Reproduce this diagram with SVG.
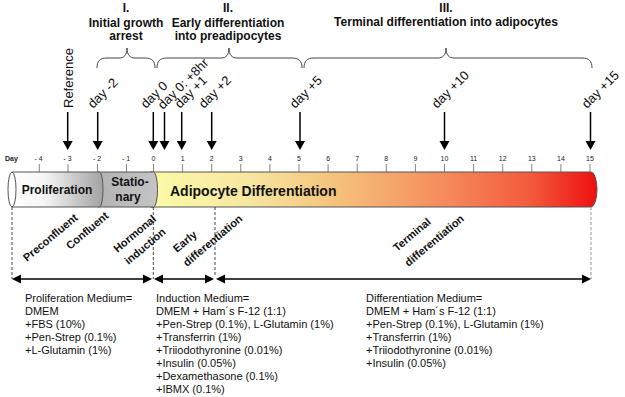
<svg xmlns="http://www.w3.org/2000/svg" width="625" height="397" viewBox="0 0 625 397">
<style>
  .h{font-family:"Liberation Sans",Arial,sans-serif;font-weight:bold;font-size:12px;fill:#111;text-anchor:middle}
  .dl{font-family:"Liberation Sans",Arial,sans-serif;font-size:13px;fill:#111}
  .tk{font-family:"Liberation Sans",Arial,sans-serif;font-size:7px;fill:#222;text-anchor:middle}
  .bl{font-family:"Liberation Sans",Arial,sans-serif;font-weight:bold;font-size:11px;fill:#111}
  .md{font-family:"Liberation Sans",Arial,sans-serif;font-size:11px;fill:#111}
  .brace{fill:none;stroke:#444;stroke-width:1}
  .darr{stroke:#000;stroke-width:1.5}
  .tick{stroke:#666;stroke-width:0.8}
  .dash{stroke:#333;stroke-width:0.9;stroke-dasharray:3,2;fill:none}
  .harr{stroke:#000;stroke-width:1.5}
</style>
<defs>
  <linearGradient id="gProl" x1="12" y1="0" x2="103" y2="0" gradientUnits="userSpaceOnUse">
    <stop offset="0" stop-color="#ffffff"/>
    <stop offset="0.35" stop-color="#f6f6f6"/>
    <stop offset="1" stop-color="#a2a2a2"/>
  </linearGradient>
  <linearGradient id="gStat" x1="100" y1="0" x2="158" y2="0" gradientUnits="userSpaceOnUse">
    <stop offset="0" stop-color="#b4b4b4"/>
    <stop offset="1" stop-color="#c4c4c4"/>
  </linearGradient>
  <linearGradient id="gAdi" x1="153" y1="0" x2="597" y2="0" gradientUnits="userSpaceOnUse">
    <stop offset="0" stop-color="#fafaa6"/>
    <stop offset="0.22" stop-color="#f7e6a0"/>
    <stop offset="0.40" stop-color="#f4c47e"/>
    <stop offset="0.66" stop-color="#f58a5c"/>
    <stop offset="0.85" stop-color="#f35a3c"/>
    <stop offset="1" stop-color="#ee1010"/>
  </linearGradient>
</defs>

<g id="headings">
  <text class="h" x="126" y="12">I.</text>
  <text class="h" x="126" y="27">Initial growth</text>
  <text class="h" x="126" y="40">arrest</text>
  <text class="h" x="228" y="12">II.</text>
  <text class="h" x="228" y="27">Early differentiation</text>
  <text class="h" x="228" y="40">into preadipocytes</text>
  <text class="h" x="446" y="12">III.</text>
  <text class="h" x="446" y="26">Terminal differentiation into adipocytes</text>
</g>

<g id="braces">
  <path class="brace" d="M97,68 C97,61 100,58 107,58 H119 C124,58 127,55 127,48 C127,55 130,58 135,58 H145 C152,58 155,61 155,68"/>
  <path class="brace" d="M157,68 C157,61 160,58 167,58 H221 C226,58 229,55 229,48 C229,55 232,58 237,58 H292 C299,58 302,61 302,68"/>
  <path class="brace" d="M304,68 C304,61 307,58 314,58 H438 C443,58 446,55 446,48 C446,55 449,58 454,58 H582 C589,58 592,61 592,68"/>
</g>

<g id="day-markers">
  <g id="m-reference"><line class="darr" x1="67.7" y1="112" x2="67.7" y2="142"/><polygon points="62.7,141 72.7,141 67.7,150"/><text class="dl" transform="translate(72.5,108) rotate(-90)">Reference</text></g>
  <g id="m-day-2"><line class="darr" x1="97.7" y1="112" x2="97.7" y2="142"/><polygon points="92.7,141 102.7,141 97.7,150"/><text class="dl" transform="translate(93,109) rotate(-45)">day -2</text></g>
  <g id="m-day0"><line class="darr" x1="153.3" y1="112" x2="153.3" y2="142"/><polygon points="148.3,141 158.3,141 153.3,150"/><text class="dl" transform="translate(146,109) rotate(-45)">day 0</text></g>
  <g id="m-day0-8hr"><line class="darr" x1="164.5" y1="112" x2="164.5" y2="142"/><polygon points="159.5,141 169.5,141 164.5,150"/><text class="dl" transform="translate(163,110) rotate(-45)">day 0: +8hr</text></g>
  <g id="m-day1"><line class="darr" x1="181.7" y1="112" x2="181.7" y2="142"/><polygon points="176.7,141 186.7,141 181.7,150"/><text class="dl" transform="translate(180,109) rotate(-45)">day +1</text></g>
  <g id="m-day2"><line class="darr" x1="211.7" y1="112" x2="211.7" y2="142"/><polygon points="206.7,141 216.7,141 211.7,150"/><text class="dl" transform="translate(204,109) rotate(-45)">day +2</text></g>
  <g id="m-day5"><line class="darr" x1="300" y1="112" x2="300" y2="142"/><polygon points="295,141 305,141 300,150"/><text class="dl" transform="translate(295,109) rotate(-45)">day +5</text></g>
  <g id="m-day10"><line class="darr" x1="444.5" y1="112" x2="444.5" y2="142"/><polygon points="439.5,141 449.5,141 444.5,150"/><text class="dl" transform="translate(437,109) rotate(-45)">day +10</text></g>
  <g id="m-day15"><line class="darr" x1="590.5" y1="112" x2="590.5" y2="142"/><polygon points="585.5,141 595.5,141 590.5,150"/><text class="dl" transform="translate(587,109) rotate(-45)">day +15</text></g>
</g>

<g id="axis">
  <text x="5" y="160.5" style="font-family:'Liberation Sans',Arial,sans-serif;font-weight:bold;font-size:7px;fill:#222">Day</text>
  <g class="tick">
    <line x1="39.3" y1="164" x2="39.3" y2="172"/><line x1="68" y1="164" x2="68" y2="172"/><line x1="97.5" y1="164" x2="97.5" y2="172"/><line x1="126.5" y1="164" x2="126.5" y2="172"/><line x1="153.5" y1="164" x2="153.5" y2="172"/>
    <line x1="182.6" y1="164" x2="182.6" y2="172"/><line x1="211.7" y1="164" x2="211.7" y2="172"/><line x1="240.8" y1="164" x2="240.8" y2="172"/><line x1="269.9" y1="164" x2="269.9" y2="172"/><line x1="299" y1="164" x2="299" y2="172"/>
    <line x1="328.1" y1="164" x2="328.1" y2="172"/><line x1="357.2" y1="164" x2="357.2" y2="172"/><line x1="386.3" y1="164" x2="386.3" y2="172"/><line x1="415.4" y1="164" x2="415.4" y2="172"/><line x1="444.5" y1="164" x2="444.5" y2="172"/>
    <line x1="473.6" y1="164" x2="473.6" y2="172"/><line x1="502.7" y1="164" x2="502.7" y2="172"/><line x1="531.8" y1="164" x2="531.8" y2="172"/><line x1="560.9" y1="164" x2="560.9" y2="172"/><line x1="590" y1="164" x2="590" y2="172"/>
  </g>
  <text class="tk" x="38.5" y="160.5">- 4</text><text class="tk" x="67.5" y="160.5">- 3</text><text class="tk" x="97" y="160.5">- 2</text><text class="tk" x="126" y="160.5">- 1</text><text class="tk" x="153.5" y="160.5">0</text>
  <text class="tk" x="182.6" y="160.5">1</text><text class="tk" x="211.7" y="160.5">2</text><text class="tk" x="240.8" y="160.5">3</text><text class="tk" x="269.9" y="160.5">4</text><text class="tk" x="299" y="160.5">5</text>
  <text class="tk" x="328.1" y="160.5">6</text><text class="tk" x="357.2" y="160.5">7</text><text class="tk" x="386.3" y="160.5">8</text><text class="tk" x="415.4" y="160.5">9</text><text class="tk" x="444.5" y="160.5">10</text>
  <text class="tk" x="473.6" y="160.5">11</text><text class="tk" x="502.7" y="160.5">12</text><text class="tk" x="531.8" y="160.5">13</text><text class="tk" x="560.9" y="160.5">14</text><text class="tk" x="590" y="160.5">15</text>
</g>

<g id="bar">
  <g id="seg-adipocyte">
    <path d="M150,172 H591 A6,17.5 0 0 1 591,207 H150 Z" fill="url(#gAdi)" stroke="#555" stroke-width="1"/>
    <text x="170" y="196" style="font-family:'Liberation Sans',Arial,sans-serif;font-weight:bold;font-size:14px;fill:#111">Adipocyte Differentiation</text>
  </g>
  <g id="seg-stationary">
    <path d="M98,172 H153.5 A4,17.5 0 0 1 153.5,207 H98 Z" fill="url(#gStat)" stroke="#555" stroke-width="1"/>
    <text class="h" x="130" y="186">Statio-</text>
    <text class="h" x="128" y="200.5">nary</text>
  </g>
  <g id="seg-proliferation">
    <path d="M12,172 H99.5 A3.5,17.5 0 0 1 99.5,207 H12 Z" fill="url(#gProl)" stroke="#555" stroke-width="1"/>
    <ellipse cx="12" cy="189.5" rx="4" ry="17.5" fill="#fff" stroke="#555" stroke-width="1"/>
    <text class="h" x="57" y="194">Proliferation</text>
  </g>
</g>

<g id="connectors">
  <line class="dash" x1="12" y1="207" x2="12" y2="279"/>
  <line class="dash" x1="153.3" y1="207" x2="153.3" y2="279"/>
  <line class="dash" x1="215" y1="207" x2="215" y2="276"/>
  <line class="dash" x1="591" y1="207" x2="591" y2="279" style="stroke:#888"/>
  <line class="harr" x1="20" y1="279" x2="144" y2="279"/>
  <polygon points="12,279 21,274.5 21,283.5"/><polygon points="152,279 143,274.5 143,283.5"/>
  <line class="harr" x1="162" y1="279" x2="206" y2="279"/>
  <polygon points="154,279 163,274.5 163,283.5"/><polygon points="214,279 205,274.5 205,283.5"/>
  <line class="harr" x1="224" y1="279" x2="582" y2="279"/>
  <polygon points="216,279 225,274.5 225,283.5"/><polygon points="591,279 582,274.5 582,283.5"/>
</g>

<g id="phase-labels">
  <text class="bl" transform="translate(27,262) rotate(-40)">Preconfluent</text>
  <text class="bl" transform="translate(70,250) rotate(-40)">Confluent</text>
  <text class="bl" transform="translate(117.5,253) rotate(-40)">Hormonal</text>
  <text class="bl" transform="translate(128.5,265) rotate(-40)">induction</text>
  <text class="bl" transform="translate(177,253) rotate(-40)">Early</text>
  <text class="bl" transform="translate(187,267) rotate(-40)">differentiation</text>
  <text class="bl" transform="translate(397,252) rotate(-40)">Terminal</text>
  <text class="bl" transform="translate(408.5,267) rotate(-40)">differentiation</text>
</g>

<g id="media">
  <g id="proliferation-medium">
    <text class="md" x="25" y="301.5">Proliferation Medium=</text>
    <text class="md" x="25" y="314.5">DMEM</text>
    <text class="md" x="25" y="327.5">+FBS (10%)</text>
    <text class="md" x="25" y="340.5">+Pen-Strep (0.1%)</text>
    <text class="md" x="25" y="353.5">+L-Glutamin (1%)</text>
  </g>
  <g id="induction-medium">
    <text class="md" x="156" y="301.5">Induction Medium=</text>
    <text class="md" x="156" y="314.5">DMEM + Ham´s F-12 (1:1)</text>
    <text class="md" x="156" y="327.5">+Pen-Strep (0.1%), L-Glutamin (1%)</text>
    <text class="md" x="156" y="340.5">+Transferrin (1%)</text>
    <text class="md" x="156" y="353.5">+Triiodothyronine (0.01%)</text>
    <text class="md" x="156" y="366.5">+Insulin (0.05%)</text>
    <text class="md" x="156" y="379.5">+Dexamethasone (0.1%)</text>
    <text class="md" x="156" y="392.5">+IBMX (0.1%)</text>
  </g>
  <g id="differentiation-medium">
    <text class="md" x="366" y="301.5">Differentiation Medium=</text>
    <text class="md" x="366" y="314.5">DMEM + Ham´s F-12 (1:1)</text>
    <text class="md" x="366" y="327.5">+Pen-Strep (0.1%), L-Glutamin (1%)</text>
    <text class="md" x="366" y="340.5">+Transferrin (1%)</text>
    <text class="md" x="366" y="353.5">+Triiodothyronine (0.01%)</text>
    <text class="md" x="366" y="366.5">+Insulin (0.05%)</text>
  </g>
</g>
</svg>
